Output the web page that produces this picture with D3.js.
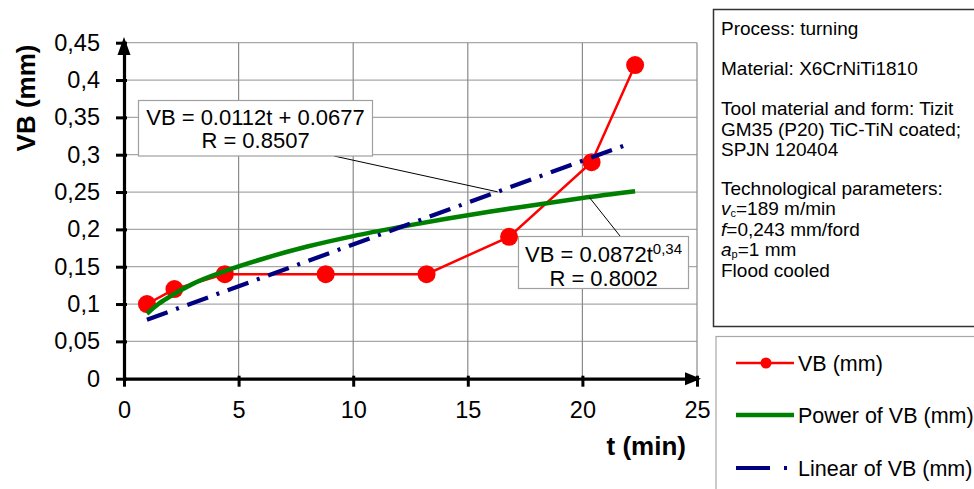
<!DOCTYPE html>
<html><head><meta charset="utf-8">
<script src="https://cdn.jsdelivr.net/npm/d3@7/dist/d3.min.js"></script>
<style>
html,body{margin:0;padding:0;background:#fff;}
svg{display:block;font-family:"Liberation Sans",Arial,sans-serif;}
</style></head>
<body>
<svg id="chart" width="974" height="489"></svg>
<script>
// ---- data ----
const tMin = [1, 2.2, 4.4, 8.8, 13.2, 16.8, 20.4, 22.3];
const vbMm = [0.10, 0.12, 0.14, 0.14, 0.14, 0.19, 0.29, 0.42];
const powerT  = [1, 1.5, 2, 3, 4.4, 6, 8, 10, 12, 14, 16, 18, 20, 22.3];
const powerVB = [0.087, 0.100, 0.110, 0.127, 0.144, 0.160, 0.177, 0.191, 0.203, 0.214, 0.224, 0.233, 0.242, 0.251];
const linearT  = [1, 21.8];
const linearVB = [0.079, 0.312];
const xTicks = [0, 5, 10, 15, 20, 25];
const yTicks = [0, 0.05, 0.1, 0.15, 0.2, 0.25, 0.3, 0.35, 0.4, 0.45];
const yTickLabels = ["0", "0,05", "0,1", "0,15", "0,2", "0,25", "0,3", "0,35", "0,4", "0,45"];
const legendLabels = ["VB (mm)", "Power of VB (mm)", "Linear of VB (mm)"];

const svg = d3.select("#chart");
const X0 = 124, X1 = 697, Y0 = 378.7, Y1 = 42.7;
const x = d3.scaleLinear().domain([0, 25]).range([X0, X1]);
const y = d3.scaleLinear().domain([0, 0.45]).range([Y0, Y1]);

// grid
const grid = svg.append("g");
grid.selectAll("line.h").data(yTicks.slice(1)).join("line")
  .attr("x1", X0).attr("x2", X1).attr("y1", d => y(d)).attr("y2", d => y(d))
  .attr("stroke", "#a8a8a8").attr("stroke-width", 1.2);
grid.selectAll("line.v").data(xTicks.slice(1)).join("line")
  .attr("y1", Y1).attr("y2", Y0).attr("x1", d => x(d)).attr("x2", d => x(d))
  .attr("stroke", "#8a8a8a").attr("stroke-width", 1.2);

// axes
const yAxis = svg.append("g").attr("transform", `translate(${X0},0)`)
  .call(d3.axisLeft(y).tickValues(yTicks).tickFormat((d, i) => yTickLabels[i]).tickSizeInner(8).tickSizeOuter(0).tickPadding(16));
const xAxis = svg.append("g").attr("transform", `translate(0,${Y0})`)
  .call(d3.axisBottom(x).tickValues(xTicks).tickFormat(d3.format("d")).tickSizeInner(8).tickSizeOuter(0).tickPadding(15));
[yAxis, xAxis].forEach(a => {
  a.select(".domain").attr("stroke", "#000").attr("stroke-width", 3.2);
  a.selectAll(".tick line").attr("stroke", "#000").attr("stroke-width", 3);
  a.selectAll(".tick text").attr("fill", "#000").style("font-size", "23.5px")
    .style("font-family", '"Liberation Sans",Arial,sans-serif');
});
yAxis.selectAll(".tick line").attr("x1", 3);
xAxis.selectAll(".tick line").attr("y1", -3);
// arrow heads
svg.append("path").attr("d", `M${X0},37 L${X0 - 6.5},55 L${X0 + 6.5},55 Z`).attr("fill", "#000");
svg.append("path").attr("d", `M${X1 + 4},${Y0} L${X1 - 12},${Y0 - 6.5} L${X1 - 12},${Y0 + 6.5} Z`).attr("fill", "#000");

// axis titles
svg.append("text").attr("transform", "translate(35,98) rotate(-90)")
  .attr("text-anchor", "middle").style("font-size", "26px").style("font-weight", "bold").text("VB (mm)");
svg.append("text").attr("x", 686).attr("y", 455)
  .attr("text-anchor", "end").style("font-size", "26px").style("font-weight", "bold").text("t (min)");

// series: measured
const measured = tMin.map((t, i) => [t, vbMm[i]]);
svg.append("path").datum(measured)
  .attr("d", d3.line().x(d => x(d[0])).y(d => y(d[1])))
  .attr("fill", "none").attr("stroke", "#ff0000").attr("stroke-width", 2.5);
svg.selectAll("circle.pt").data(measured).join("circle")
  .attr("cx", d => x(d[0])).attr("cy", d => y(d[1])).attr("r", 9).attr("fill", "#ff0000");

// power trend
const powerPts = powerT.map((t, i) => [t, powerVB[i]]);
svg.append("path").datum(powerPts)
  .attr("d", d3.line().curve(d3.curveMonotoneX).x(d => x(d[0])).y(d => y(d[1])))
  .attr("fill", "none").attr("stroke", "#008000").attr("stroke-width", 4.5);

// linear trend
const linPts = linearT.map((t, i) => [t, linearVB[i]]);
svg.append("path").datum(linPts)
  .attr("d", d3.line().x(d => x(d[0])).y(d => y(d[1])))
  .attr("fill", "none").attr("stroke", "#000080").attr("stroke-width", 4.2)
  .attr("stroke-dasharray", "22,9,3,9");

// annotation 1 (linear)
svg.append("line").attr("x1", 334).attr("y1", 156).attr("x2", x(16.3)).attr("y2", y(0.0112 * 16.3 + 0.0677))
  .attr("stroke", "#000").attr("stroke-width", 1);
svg.append("rect").attr("x", 138.5).attr("y", 100.5).attr("width", 234).attr("height", 55.5)
  .attr("fill", "#fff").attr("stroke", "#a0a0a0").attr("stroke-width", 1.2);
svg.append("text").attr("x", 255.5).attr("y", 124.5).attr("text-anchor", "middle").style("font-size", "22px").text("VB = 0.0112t + 0.0677");
svg.append("text").attr("x", 255.5).attr("y", 148).attr("text-anchor", "middle").style("font-size", "22px").text("R = 0.8507");

// annotation 2 (power)
svg.append("line").attr("x1", 620).attr("y1", 236).attr("x2", x(20.3)).attr("y2", y(0.243))
  .attr("stroke", "#000").attr("stroke-width", 1);
svg.append("rect").attr("x", 518.5).attr("y", 236.5).attr("width", 170).attr("height", 52)
  .attr("fill", "#fff").attr("stroke", "#a0a0a0").attr("stroke-width", 1.2);
const eq2 = svg.append("text").attr("x", 603.5).attr("y", 262).attr("text-anchor", "middle").style("font-size", "22px");
eq2.append("tspan").text("VB = 0.0872t");
eq2.append("tspan").attr("dy", -8).style("font-size", "15px").text("0,34");
svg.append("text").attr("x", 603.5).attr("y", 285.5).attr("text-anchor", "middle").style("font-size", "22px").text("R = 0.8002");

// info box
svg.append("rect").attr("x", 713.5).attr("y", 9.5).attr("width", 300).attr("height", 317)
  .attr("fill", "#fff").attr("stroke", "#333").attr("stroke-width", 1.5);
const info = svg.append("g").style("font-size", "19px");
const infoLine = (yy) => info.append("text").attr("x", 721).attr("y", yy);
infoLine(35).text("Process: turning");
infoLine(75).text("Material: X6CrNiTi1810");
infoLine(115).text("Tool material and form: Tizit");
infoLine(135.5).text("GM35 (P20) TiC-TiN coated;");
infoLine(156).text("SPJN 120404");
infoLine(194.5).text("Technological parameters:");
let t1 = infoLine(215);
t1.append("tspan").style("font-style", "italic").text("v");
t1.append("tspan").attr("dy", 1.5).style("font-size", "11px").text("c");
t1.append("tspan").attr("dy", -1.5).text("=189 m/min");
let t2 = infoLine(235.5);
t2.append("tspan").style("font-style", "italic").text("f");
t2.append("tspan").text("=0,243 mm/ford");
let t3 = infoLine(256);
t3.append("tspan").style("font-style", "italic").text("a");
t3.append("tspan").attr("dy", 1.5).style("font-size", "11px").text("p");
t3.append("tspan").attr("dy", -1.5).text("=1 mm");
infoLine(276.5).text("Flood cooled");

// legend
svg.append("rect").attr("x", 716).attr("y", 336.5).attr("width", 300).attr("height", 200)
  .attr("fill", "#fff").attr("stroke", "#a8a8a8").attr("stroke-width", 1.2);
const lg = svg.append("g").style("font-size", "21.5px");
const ly = [363, 415, 468];
lg.append("line").attr("x1", 736).attr("x2", 794).attr("y1", ly[0]).attr("y2", ly[0]).attr("stroke", "#ff0000").attr("stroke-width", 2.5);
lg.append("circle").attr("cx", 766).attr("cy", ly[0]).attr("r", 5.5).attr("fill", "#ff0000");
lg.append("line").attr("x1", 736).attr("x2", 794).attr("y1", ly[1]).attr("y2", ly[1]).attr("stroke", "#008000").attr("stroke-width", 4.5);
lg.append("line").attr("x1", 736).attr("x2", 794).attr("y1", ly[2]).attr("y2", ly[2]).attr("stroke", "#000080").attr("stroke-width", 4.2).attr("stroke-dasharray", "34,14,3,20");
lg.selectAll("text").data(legendLabels).join("text")
  .attr("x", 798).attr("y", (d, i) => ly[i] + 7.5).text(d => d);
</script>
</body></html>
